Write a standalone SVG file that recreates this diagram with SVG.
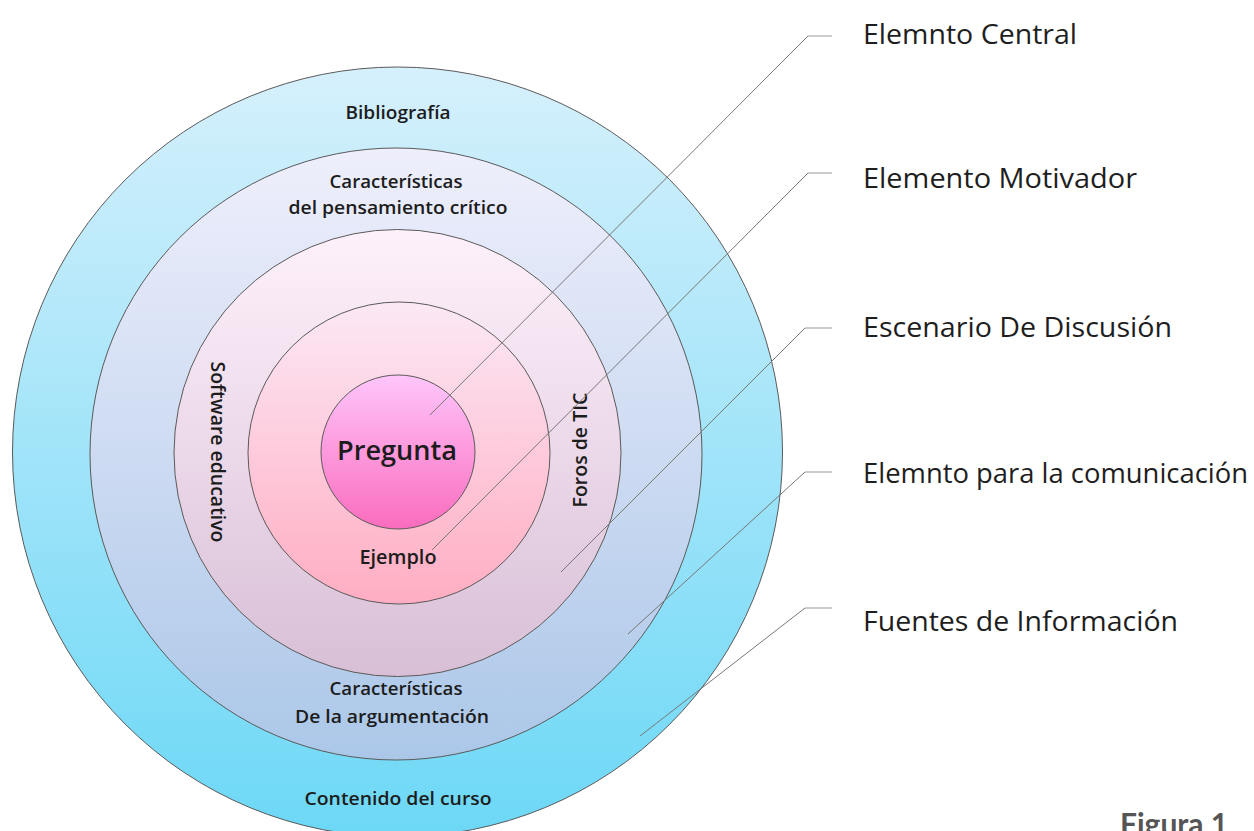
<svg xmlns="http://www.w3.org/2000/svg" width="1254" height="831" viewBox="0 0 1254 831">
<defs>
<linearGradient id="g1" x1="0" y1="0" x2="0" y2="1"><stop offset="0" stop-color="#d6f0fc"/><stop offset="1" stop-color="#6cd8f6"/></linearGradient>
<linearGradient id="g2" x1="0" y1="0" x2="0" y2="1"><stop offset="0" stop-color="#efeffc"/><stop offset="1" stop-color="#abc7e8"/></linearGradient>
<linearGradient id="g3" x1="0" y1="0" x2="0" y2="1"><stop offset="0" stop-color="#fef1fb"/><stop offset="1" stop-color="#d8bfd6"/></linearGradient>
<linearGradient id="g4" x1="0" y1="0" x2="0" y2="1"><stop offset="0" stop-color="#fce8f5"/><stop offset="1" stop-color="#ffadc2"/></linearGradient>
<linearGradient id="g5" x1="0" y1="0" x2="0" y2="1"><stop offset="0" stop-color="#ffc6fb"/><stop offset="1" stop-color="#fa6cbd"/></linearGradient>
</defs>
<style>
.ring{stroke:#5a5a5a;stroke-width:1}
.in{font-family:"Open Sans","Liberation Sans",sans-serif;fill:#1c1c1c;text-anchor:middle;font-weight:600;font-size:18px}
.lab{font-family:"Open Sans","Liberation Sans",sans-serif;fill:#1e1e1e;font-size:27px;font-weight:500}
.con{fill:none;stroke:#777;stroke-width:1}
.tick{fill:none;stroke:#aaa;stroke-width:1.2}
</style>
<rect width="1254" height="831" fill="#fff"/>
<g id="ring-outer"><circle class="ring" cx="397.5" cy="452" r="385" fill="url(#g1)"/>
<text class="in" x="398" y="119" textLength="105" lengthAdjust="spacingAndGlyphs">Bibliografía</text>
<text class="in" x="398" y="805" textLength="187" lengthAdjust="spacingAndGlyphs">Contenido del curso</text></g>
<g id="ring-2"><circle class="ring" cx="396" cy="454" r="306" fill="url(#g2)"/>
<text class="in" x="396" y="188" textLength="133" lengthAdjust="spacingAndGlyphs">Características</text>
<text class="in" x="398" y="214" textLength="219" lengthAdjust="spacingAndGlyphs">del pensamiento crítico</text>
<text class="in" x="396" y="695" textLength="133" lengthAdjust="spacingAndGlyphs">Características</text>
<text class="in" x="392" y="723" textLength="194" lengthAdjust="spacingAndGlyphs">De la argumentación</text></g>
<g id="ring-3"><circle class="ring" cx="397.5" cy="453" r="223.5" fill="url(#g3)"/>
<text class="in" transform="translate(211 452) rotate(90)" textLength="181" lengthAdjust="spacingAndGlyphs" style="font-size:19px">Software educativo</text>
<text class="in" transform="translate(587 450) rotate(-90)" textLength="115" lengthAdjust="spacingAndGlyphs" style="font-size:19px">Foros de TIC</text></g>
<g id="ring-4"><circle class="ring" cx="399" cy="453" r="151" fill="url(#g4)"/>
<text class="in" x="398" y="564" textLength="77" lengthAdjust="spacingAndGlyphs" style="font-size:19px">Ejemplo</text></g>
<g id="center"><circle class="ring" cx="398" cy="452" r="77" fill="url(#g5)"/>
<text class="in" x="397" y="460" textLength="120" lengthAdjust="spacingAndGlyphs" style="font-size:27px;font-weight:600">Pregunta</text></g>
<g id="connectors">
<path class="tick" d="M832 36H808"/><path class="con" d="M808 36L430 415"/>
<path class="tick" d="M832 173H808"/><path class="con" d="M808 173L432 550"/>
<path class="tick" d="M832 328H805"/><path class="con" d="M805 328L561 572"/>
<path class="tick" d="M832 472H805"/><path class="con" d="M805 472L628 634"/>
<path class="tick" d="M832 608H805"/><path class="con" d="M805 608L640 736"/>
</g>
<g id="labels">
<text class="lab" x="863" y="44" textLength="214" lengthAdjust="spacingAndGlyphs">Elemnto Central</text>
<text class="lab" x="863" y="188" textLength="274" lengthAdjust="spacingAndGlyphs">Elemento Motivador</text>
<text class="lab" x="863" y="337" textLength="309" lengthAdjust="spacingAndGlyphs">Escenario De Discusión</text>
<text class="lab" x="863" y="483" textLength="385" lengthAdjust="spacingAndGlyphs">Elemnto para la comunicación</text>
<text class="lab" x="863" y="631" textLength="315" lengthAdjust="spacingAndGlyphs">Fuentes de Información</text>
<text x="1120" y="835" font-family="Lato,'Liberation Sans',sans-serif" font-weight="bold" font-size="30" fill="#555">Figura 1</text>
</g>
</svg>
